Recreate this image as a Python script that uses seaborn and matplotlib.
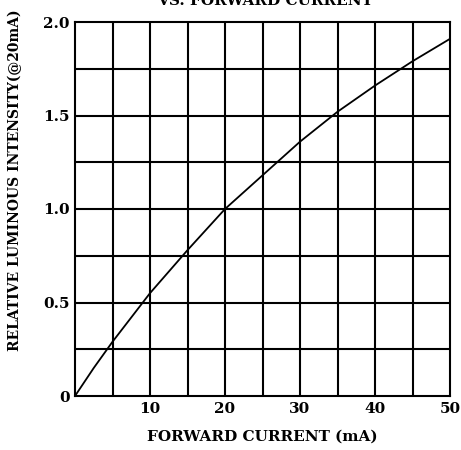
import matplotlib
matplotlib.use("Agg")
import matplotlib.pyplot as plt
import seaborn as sns

# Relative luminous intensity vs forward current (normalised @20mA)
current_ma = [0, 2.5, 5, 7.5, 10, 15, 20, 25, 30, 35, 40, 45, 50]
intensity = [0, 0.15, 0.29, 0.42, 0.55, 0.78, 1.0, 1.18, 1.36, 1.52, 1.66, 1.79, 1.91]

x_ticks = [10, 20, 30, 40, 50]
y_ticks = [0, 0.5, 1.0, 1.5, 2.0]
y_tick_labels = ["0", "0.5", "1.0", "1.5", "2.0"]

sns.set_style("white")
plt.rcParams["font.family"] = ["DejaVu Serif"]
plt.rcParams["font.weight"] = "bold"
plt.rcParams["text.color"] = "black"
plt.rcParams["xtick.color"] = "black"
plt.rcParams["ytick.color"] = "black"
plt.rcParams["axes.labelcolor"] = "black"

fig = plt.figure(figsize=(4.61, 4.5), dpi=100)
ax = fig.add_axes([75 / 461, 1 - 396 / 450, 375 / 461, 374 / 450])

sns.lineplot(x=current_ma, y=intensity, ax=ax, color="black", linewidth=1.3)

ax.set_xlim(0, 50)
ax.set_ylim(0, 2.0)
# grid every 5 mA and every 0.25
for gx in range(5, 50, 5):
    ax.axvline(gx, color="black", linewidth=1.5, zorder=0)
for i in range(1, 8):
    ax.axhline(i * 0.25, color="black", linewidth=1.5, zorder=0)
for s in ax.spines.values():
    s.set_color("black")
    s.set_linewidth(1.5)

ax.set_xticks(x_ticks)
ax.set_yticks(y_ticks)
ax.set_yticklabels(y_tick_labels)
ax.tick_params(length=0, labelsize=11, pad=4)
for lab in ax.get_xticklabels() + ax.get_yticklabels():
    lab.set_fontweight("bold")

ax.set_xlabel("FORWARD CURRENT (mA)", fontsize=11, fontweight="bold", labelpad=10)
ax.set_ylabel("RELATIVE LUMINOUS INTENSITY(@20mA)", fontsize=10, fontweight="bold")
ax.yaxis.set_label_coords(-0.14, (396 - 180) / 374)
fig.text(265 / 461, 1 - 5 / 450, "VS. FORWARD CURRENT", ha="center", va="baseline",
         fontsize=11, fontweight="bold")

fig.savefig("out.png", dpi=100)
